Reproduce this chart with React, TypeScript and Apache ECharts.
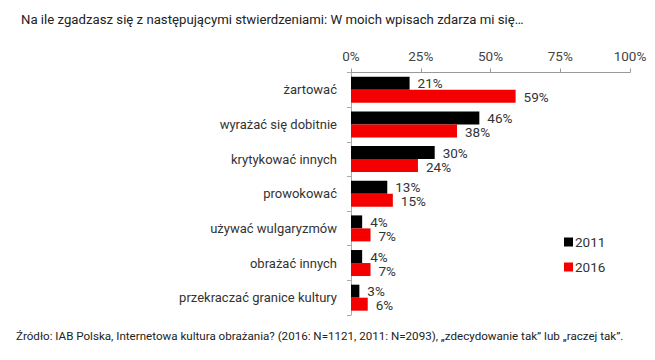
import React, { useEffect, useRef } from "react";
import * as echarts from "echarts";

const categories = [
  "żartować",
  "wyrażać się dobitnie",
  "krytykować innych",
  "prowokować",
  "używać wulgaryzmów",
  "obrażać innych",
  "przekraczać granice kultury",
];
const values2011 = [21, 46, 30, 13, 4, 4, 3];
const values2016 = [59, 38, 24, 15, 7, 7, 6];
const seriesNames = ["2011", "2016"];
const xTicks = [0, 25, 50, 75, 100];

const titleText =
  "Na ile zgadzasz się z następującymi stwierdzeniami: W moich wpisach zdarza mi się…";
const footerText =
  "Źródło: IAB Polska, Internetowa kultura obrażania? (2016: N=1121, 2011: N=2093), „zdecydowanie tak” lub „raczej tak”.";

const FONT = "Roboto";

export default function App() {
  const ref = useRef<HTMLDivElement>(null);
  useEffect(() => {
    if (!ref.current) return;
    const chart = echarts.init(ref.current, undefined, { renderer: "svg" });
    const labelStyle = (dy: number) => ({
      show: true,
      position: "right" as const,
      distance: 8,
      offset: [0, dy],
      formatter: "{c}%",
      fontSize: 13.5,
      lineHeight: 13,
      color: "#333",
      fontFamily: FONT,
    });
    chart.setOption({
      animation: false,
      backgroundColor: "#fff",
      textStyle: { fontFamily: FONT },
      title: {
        text: titleText,
        left: 16,
        top: 8,
        textStyle: { fontSize: 13.2, fontWeight: "normal", color: "#222", fontFamily: FONT },
      },
      graphic: [
        {
          type: "text",
          left: 16,
          top: 330,
          style: { text: footerText, fontSize: 11.6, fill: "#222", fontFamily: FONT },
        },
      ],
      legend: {
        orient: "vertical",
        left: 559,
        top: 230,
        itemWidth: 9,
        itemHeight: 9,
        itemGap: 11,
        icon: "rect",
        data: seriesNames,
        textStyle: { fontSize: 13.5, color: "#333", fontFamily: FONT, padding: [0, 0, 0, -3] },
      },
      grid: { left: 351, right: 25, top: 72.5, bottom: 45, containLabel: false },
      xAxis: {
        type: "value",
        position: "top",
        min: xTicks[0],
        max: xTicks[xTicks.length - 1],
        interval: 25,
        axisLine: { show: true, lineStyle: { color: "#999" } },
        axisTick: { show: true, length: 4, lineStyle: { color: "#999" } },
        splitLine: { show: false },
        axisLabel: { formatter: "{value}%", fontSize: 13.5, color: "#444", margin: 10, fontFamily: FONT },
      },
      yAxis: {
        type: "category",
        data: categories,
        inverse: true,
        axisLine: { show: true, lineStyle: { color: "#aaa" } },
        axisTick: { show: true, length: 4, lineStyle: { color: "#aaa" } },
        axisLabel: { fontSize: 13, color: "#333", margin: 14, fontFamily: FONT },
      },
      series: [
        {
          name: seriesNames[0],
          type: "bar",
          data: values2011,
          barWidth: 13,
          barGap: "0%",
          itemStyle: { color: "#000" },
          label: labelStyle(0),
        },
        {
          name: seriesNames[1],
          type: "bar",
          data: values2016,
          barWidth: 13,
          barGap: "0%",
          itemStyle: { color: "#f40000" },
          label: labelStyle(1),
        },
      ],
    });
    return () => chart.dispose();
  }, []);
  return <div ref={ref} style={{ width: 655, height: 360, position: "absolute", left: 0, top: 0 }} />;
}
